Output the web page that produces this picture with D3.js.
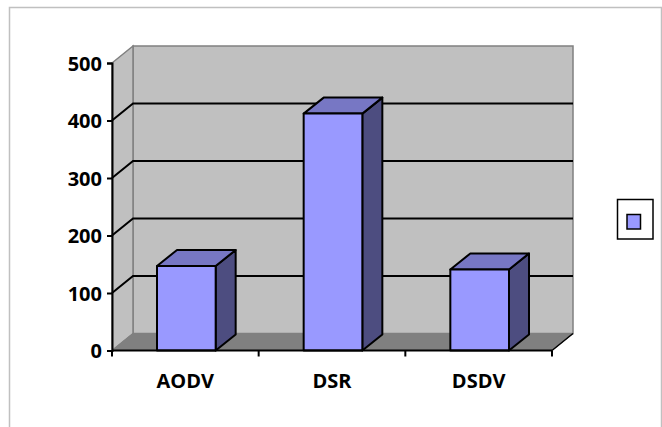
<!DOCTYPE html>
<html>
<head>
<meta charset="utf-8">
<script src="https://cdn.jsdelivr.net/npm/d3@7"></script>
<style>
html,body{margin:0;padding:0;background:#fff;}
svg{display:block;}
</style>
</head>
<body>
<svg id="chart" width="662" height="427"></svg>
<script>
const categories = ["AODV", "DSR", "DSDV"];
const values = [147, 412, 141];
const yTicks = [0, 100, 200, 300, 400, 500];

const svg = d3.select("#chart");
const DX = 21, DY = -17;      // wall depth offset
const BDX = 20, BDY = -16;    // bar depth offset

const x = d3.scaleBand().domain(categories).range([112, 552]);
const y = d3.scaleLinear().domain([0, 500]).range([350.5, 63]);

// outer border
svg.append("rect").attr("x", 9.5).attr("y", 7.5).attr("width", 652).attr("height", 440)
  .attr("fill", "#fff").attr("stroke", "#c0c0c0").attr("stroke-width", 1.5);

const x0 = x.range()[0], x1 = x.range()[1];
const y0 = y(0), yTop = y(500);
const pts = a => a.map(p => p.join(",")).join(" ");

// back wall
svg.append("polygon")
  .attr("points", pts([[x0+DX, yTop+DY],[x1+DX, yTop+DY],[x1+DX, y0+DY],[x0+DX, y0+DY]]))
  .attr("fill", "#c0c0c0").attr("stroke", "#808080").attr("stroke-width", 1.5);
// side wall
svg.append("polygon")
  .attr("points", pts([[x0, yTop],[x0+DX, yTop+DY],[x0+DX, y0+DY],[x0, y0]]))
  .attr("fill", "#c0c0c0").attr("stroke", "#808080").attr("stroke-width", 1.5);
// floor
svg.append("polygon")
  .attr("points", pts([[x0, y0],[x0+DX, y0+DY],[x1+DX, y0+DY],[x1, y0]]))
  .attr("fill", "#808080").attr("stroke", "#808080").attr("stroke-width", 1);

// gridlines
const grid = yTicks.filter(t => t > 0 && t < 500);
grid.forEach(t => {
  svg.append("polyline")
    .attr("points", pts([[x0, y(t)],[x0+DX, y(t)+DY],[x1+DX, y(t)+DY]]))
    .attr("fill", "none").attr("stroke", "#000").attr("stroke-width", 2);
});
// floor right edge
svg.append("line").attr("x1", x1).attr("y1", y0).attr("x2", x1+DX).attr("y2", y0+DY)
  .attr("stroke", "#000").attr("stroke-width", 1.5);

// bars
const bw = x.bandwidth() * 0.4;
const bars = svg.append("g");
categories.forEach((c, i) => {
  const v = values[i];
  const l = x(c) + x.bandwidth()/2 - bw/2 + 1, r = l + bw;
  const t = y(v), b = y(0);
  const g = bars.append("g").attr("stroke", "#000").attr("stroke-width", 2).attr("stroke-linejoin", "round");
  g.append("polygon").attr("points", pts([[r, b],[r+BDX, b+BDY],[r+BDX, t+BDY],[r, t]])).attr("fill", "#4d4d80");
  g.append("polygon").attr("points", pts([[l, t],[l+BDX, t+BDY],[r+BDX, t+BDY],[r, t]])).attr("fill", "#7777c4");
  g.append("rect").attr("x", l).attr("y", t).attr("width", bw).attr("height", b - t).attr("fill", "#9999ff");
});

// y axis
const yAxis = d3.axisLeft(y).tickValues(yTicks).tickSize(5).tickPadding(5);
const ga = svg.append("g").attr("transform", `translate(${x0},0)`).call(yAxis);
ga.select(".domain").attr("stroke", "#000").attr("stroke-width", 2);
ga.selectAll(".tick line").attr("stroke", "#000").attr("stroke-width", 2);
ga.selectAll(".tick text").attr("font-family", "'Open Sans', sans-serif").attr("font-weight", "bold")
  .attr("font-size", 20).attr("fill", "#000").attr("dy", "0.36em").attr("x", -10);

// x axis
const xAxis = d3.axisBottom(x).tickSize(0).tickPadding(0);
const gx = svg.append("g").attr("transform", `translate(0,${y0})`).call(xAxis);
gx.select(".domain").remove();
svg.append("line").attr("x1", x0).attr("x2", x1).attr("y1", y0).attr("y2", y0)
  .attr("stroke", "#000").attr("stroke-width", 2);
const edges = [x0, ...categories.map(c => x(c) + x.bandwidth())];
edges.forEach(e => {
  svg.append("line").attr("x1", e).attr("x2", e).attr("y1", y0).attr("y2", y0 + 6)
    .attr("stroke", "#000").attr("stroke-width", 2);
});
gx.selectAll(".tick text").attr("font-family", "'Open Sans', sans-serif").attr("font-weight", "bold")
  .attr("font-size", 20).attr("fill", "#000").attr("dy", 0).attr("y", 37);

// legend
svg.append("rect").attr("x", 617.5).attr("y", 199.5).attr("width", 35.5).attr("height", 39.5)
  .attr("fill", "#fff").attr("stroke", "#000").attr("stroke-width", 1.5);
svg.append("rect").attr("x", 627).attr("y", 214.5).attr("width", 13.5).attr("height", 14.5)
  .attr("fill", "#9999ff").attr("stroke", "#000").attr("stroke-width", 1.5);
</script>
</body>
</html>
